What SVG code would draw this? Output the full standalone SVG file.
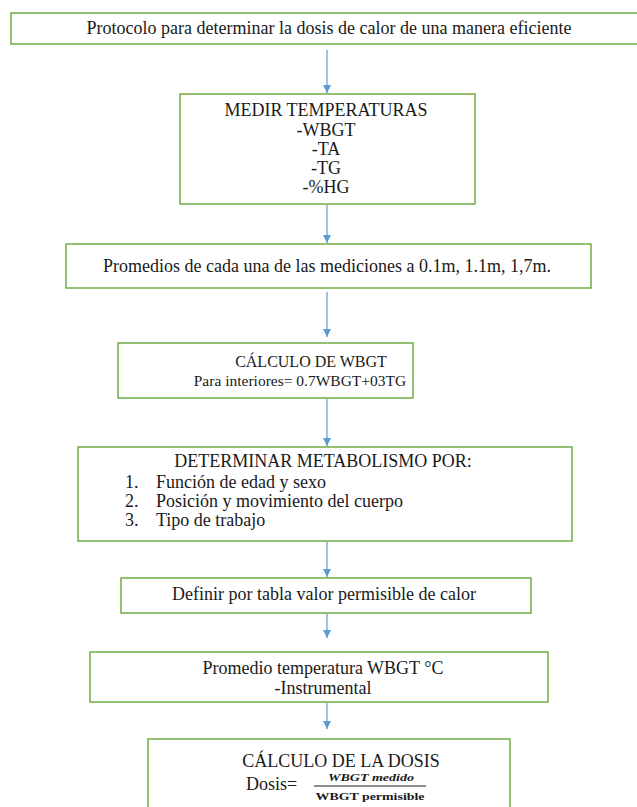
<svg xmlns="http://www.w3.org/2000/svg" width="637" height="807" viewBox="0 0 637 807">
<defs>
<style>
.box{fill:#fff;stroke:#70AD47;stroke-width:1.5}
.t{font-family:"Liberation Serif","Times New Roman",serif;font-size:18px;fill:#1a1a1a}
.m{text-anchor:middle}
.c{stroke:#5B9BD5;stroke-width:1.2;fill:none;marker-end:url(#ah)}
.f{font-family:"Liberation Serif","Times New Roman",serif;font-size:11px;font-weight:bold;fill:#1a1a1a;text-anchor:middle}
</style>
<marker id="ah" viewBox="0 0 10 10" refX="10" refY="5" markerWidth="8" markerHeight="8" markerUnits="userSpaceOnUse" orient="auto">
<path d="M0,0 L10,5 L0,10 Z" fill="#5B9BD5"/>
</marker>
</defs>
<rect width="637" height="807" fill="#fff"/>
<g id="connectors">
<line class="c" x1="327" y1="50" x2="327" y2="93"/>
<line class="c" x1="327" y1="205" x2="327" y2="243"/>
<line class="c" x1="327" y1="292" x2="327" y2="337"/>
<line class="c" x1="327" y1="399" x2="327" y2="446"/>
<line class="c" x1="327" y1="542" x2="327" y2="577"/>
<line class="c" x1="327" y1="614" x2="327" y2="638"/>
<line class="c" x1="327" y1="703" x2="327" y2="729"/>
</g>
<g id="n1">
<rect class="box" x="11" y="13" width="640" height="31"/>
<text class="t m" x="329" y="34">Protocolo para determinar la dosis de calor de una manera eficiente</text>
</g>
<g id="n2">
<rect class="box" x="180" y="94" width="295" height="110"/>
<text class="t m" x="326" y="116">MEDIR TEMPERATURAS</text>
<text class="t m" x="326" y="136">-WBGT</text>
<text class="t m" x="326" y="155">-TA</text>
<text class="t m" x="326" y="174">-TG</text>
<text class="t m" x="326" y="193">-%HG</text>
</g>
<g id="n3">
<rect class="box" x="66" y="244" width="525" height="44"/>
<text class="t m" x="327" y="272">Promedios de cada una de las mediciones a 0.1m, 1.1m, 1,7m.</text>
</g>
<g id="n4">
<rect class="box" x="118" y="343" width="295" height="55"/>
<text class="t m" x="311" y="367" style="font-size:16px">CÁLCULO DE WBGT</text>
<text class="t m" x="300" y="386" style="font-size:15.5px">Para interiores= 0.7WBGT+03TG</text>
</g>
<g id="n5">
<rect class="box" x="78" y="447" width="494" height="94"/>
<text class="t m" x="323" y="467">DETERMINAR METABOLISMO POR:</text>
<text class="t" x="125" y="488">1.</text>
<text class="t" x="156" y="488">Función de edad y sexo</text>
<text class="t" x="125" y="507">2.</text>
<text class="t" x="156" y="507">Posición y movimiento del cuerpo</text>
<text class="t" x="125" y="526">3.</text>
<text class="t" x="156" y="526">Tipo de trabajo</text>
</g>
<g id="n6">
<rect class="box" x="121" y="578" width="410" height="35"/>
<text class="t m" x="324" y="600">Definir por tabla valor permisible de calor</text>
</g>
<g id="n7">
<rect class="box" x="90" y="652" width="458" height="50"/>
<text class="t m" x="323" y="674">Promedio temperatura WBGT °C</text>
<text class="t m" x="323" y="694">-Instrumental</text>
</g>
<g id="n8">
<rect class="box" x="148" y="739" width="362" height="80"/>
<text class="t m" x="341" y="767">CÁLCULO DE LA DOSIS</text>
<text class="t" x="246" y="790">Dosis=</text>
<text class="f" x="371" y="781" style="font-size:10px;font-style:italic" textLength="86" lengthAdjust="spacingAndGlyphs">WBGT medido</text>
<line x1="314" y1="786" x2="426" y2="786" stroke="#1a1a1a" stroke-width="1"/>
<text class="f" x="370" y="800" textLength="109" lengthAdjust="spacingAndGlyphs">WBGT permisible</text>
</g>
</svg>
